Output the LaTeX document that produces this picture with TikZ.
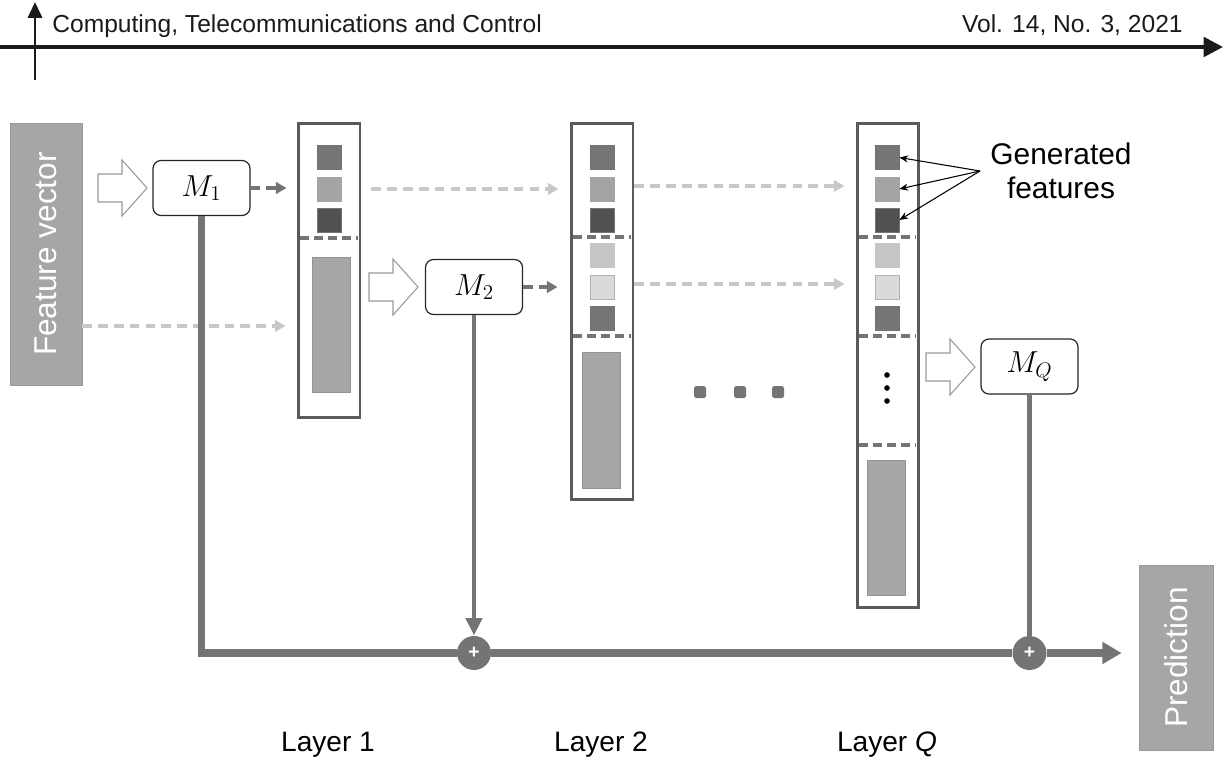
\documentclass[tikz,border=0pt]{standalone}
\usepackage{fontspec}
\setmainfont{Liberation Sans}
\usepackage{tikz}
\usetikzlibrary{arrows.meta,positioning}

\definecolor{boxgray}{HTML}{A6A6A6}
\definecolor{framegray}{HTML}{5A5A5A}
\definecolor{linegray}{HTML}{747474}
\definecolor{lightdash}{HTML}{C8C8C8}
\definecolor{sqa}{HTML}{767676}
\definecolor{sqb}{HTML}{A4A4A4}
\definecolor{sqc}{HTML}{515151}
\definecolor{sqd}{HTML}{C6C6C6}
\definecolor{sqe}{HTML}{DADADA}
\definecolor{inkblack}{HTML}{1A1A1A}

\begin{document}
\begin{tikzpicture}[
  x=0.02cm,
  y=-0.02cm,
  sidebox/.style={draw=gray!80, fill=boxgray, text=white, rotate=90,
    inner sep=0pt, font=\fontsize{18}{21}\selectfont},
  model/.style={draw=black!85, rounded corners=1.6mm, fill=white, line width=0.7pt,
    minimum width=1.94cm, minimum height=1.1cm, inner sep=0pt,
    font=\fontsize{17.5}{20}\selectfont},
  colframe/.style={draw=framegray, line width=1.7pt, fill=white, inner sep=0pt},
  block/.style={draw=gray!85, fill=boxgray, minimum width=0.76cm, inner sep=0pt},
  feat/.style={draw=black!55, line width=0.4pt, minimum size=0.48cm, inner sep=0pt},
  sepline/.style={draw=linegray, line width=2pt, dash pattern=on 5pt off 3pt},
  darkdash/.style={draw=linegray, line width=1.8pt, dash pattern=on 5.5pt off 3.5pt,
    -{Triangle[length=6pt,width=6.5pt]}},
  lightdash/.style={draw=lightdash, line width=1.8pt, dash pattern=on 5.5pt off 3.5pt,
    -{Triangle[length=6pt,width=6.5pt]}},
  hollow/.style={draw=gray!80, fill=white, line width=0.6pt, line join=miter},
  mainline/.style={draw=linegray, line width=4.2pt},
  vline/.style={draw=linegray, line width=2.8pt},
  sum/.style={circle, fill=linegray, minimum size=0.68cm, inner sep=0pt,
    text=white, font=\fontsize{11}{11}\selectfont\bfseries},
  dot/.style={fill=linegray, rounded corners=1pt, minimum size=0.24cm, inner sep=0pt},
  note/.style={font=\fontsize{17}{19}\selectfont, align=center},
  layer/.style={font=\fontsize{16}{19}\selectfont},
  header/.style={font=\fontsize{14}{16}\selectfont, text=inkblack, inner sep=0pt}
]
  \useasboundingbox (0,0) rectangle (1223,764);

  % journal header
  \coordinate (hl) at (0,47);
  \coordinate (hr) at (1223,47);
  \coordinate (vb) at (35,80);
  \coordinate (vt) at (35,2);
  \draw[inkblack, line width=2.3pt, -{Triangle[length=11pt,width=11pt]}] (hl) -- (hr);
  \draw[inkblack, line width=1.7pt, -{Triangle[length=9pt,width=8pt]}] (vb) -- (vt);
  \node[header, anchor=base west] (jname) at (52,32)
    {Computing, Telecommunications and Control};
  \node[header, anchor=base east] (jvol) at (1183,32) {Vol. 14, No. 3, 2021};

  % input and output
  \node[sidebox, minimum width=5.24cm, minimum height=1.44cm] (fv) at (46,254)
    {Feature vector};
  \node[sidebox, minimum width=3.7cm, minimum height=1.48cm] (pred) at (1176,657.5)
    {Prediction};

  % layer columns
  \node[colframe, minimum width=1.24cm, minimum height=5.9cm] (col1) at (329,270.5) {};
  \node[colframe, minimum width=1.24cm, minimum height=7.54cm] (col2) at (602,311.5) {};
  \node[colframe, minimum width=1.22cm, minimum height=9.7cm] (colq) at (887.5,365.5) {};

  \node[block, minimum height=2.7cm] (blk1) at (331,324.5) {};
  \node[block, minimum height=2.72cm] (blk2) at (601.5,420) {};
  \node[block, minimum height=2.7cm] (blkq) at (886.5,527.5) {};

  \foreach \c/\x in {1/329.5, 2/602, q/887} {
    \node[feat, fill=sqa] (\c-1) at (\x,157.5) {};
    \node[feat, fill=sqb, draw=sqb] (\c-2) at (\x,189) {};
    \node[feat, fill=sqc] (\c-3) at (\x,220) {};
  }
  \foreach \c/\x in {2/602, q/887} {
    \node[feat, fill=sqd, draw=sqd] (\c-4) at (\x,255) {};
    \node[feat, fill=sqe, draw=gray!60] (\c-5) at (\x,287) {};
    \node[feat, fill=sqa] (\c-6) at (\x,318) {};
  }

  \draw[sepline] (300,238) -- (358,238);
  \draw[sepline] (573,237) -- (631,237);
  \draw[sepline] (573,336) -- (631,336);
  \draw[sepline] (859,237) -- (916,237);
  \draw[sepline] (859,336) -- (916,336);
  \draw[sepline] (859,445) -- (916,445);

  \foreach \y [count=\i] in {375,388,401}
    \fill[black] (887,\y) circle (1.6pt);

  % models
  \node[model] (m1) at (201.5,188) {$M_1$};
  \node[model] (m2) at (474,287) {$M_2$};
  \node[model] (mq) at (1029.5,366.5) {$M_Q$};

  % hollow input arrows
  \foreach \tx/\ty in {147/188, 418/287, 975/367}
    \draw[hollow] (\tx,\ty) -- ++(-25,-28) -- ++(0,14) -- ++(-24,0) -- ++(0,28)
      -- ++(24,0) -- ++(0,14) -- cycle;

  % feature flow
  \draw[darkdash] (m1.east) -- ([xshift=-0.2cm]col1.west |- m1.east);
  \draw[darkdash] (m2.east) -- ([xshift=-0.24cm]col2.west |- m2.east);
  \draw[lightdash] (fv.south |- 0,326) -- ([xshift=-0.22cm]col1.west |- 0,326);
  \draw[lightdash] ([xshift=0.2cm]col1.east |- 1-2) -- ([xshift=-0.22cm]col2.west |- 1-2);
  \draw[lightdash] (col2.east |- 0,186) -- ([xshift=-0.22cm]colq.west |- 0,186);
  \draw[lightdash] (col2.east |- 0,284) -- ([xshift=-0.22cm]colq.west |- 0,284);

  \foreach \x [count=\i] in {700,740,778}
    \node[dot] (dot\i) at (\x,392) {};

  % generated features
  \node[note] (gen) at (1061,171) {Generated\\features};
  \coordinate (gsrc) at (980,171);
  \foreach \r in {1,2,3}
    \draw[black, line width=0.6pt, -{Stealth[length=5pt,width=4pt]}] (gsrc) -- (q-\r.east);

  % boosting sum
  \node[sum] (sum2) at (474,653) {+};
  \node[sum] (sumq) at (1029.5,653) {+};
  \draw[mainline] (m1.south) |- (sum2.west);
  \draw[mainline] (sum2.east) -- (sumq.west);
  \draw[mainline, -{Triangle[length=11pt,width=12pt]}, shorten >=0.34cm]
    (sumq.east) -- (pred.north |- sumq.east);
  \draw[vline, -{Triangle[length=10pt,width=9pt]}] (m2.south) -- (sum2.north);
  \draw[vline] (mq.south) -- (sumq.north);

  % layer labels
  \node[layer] (lab1) at (328,745) {Layer 1};
  \node[layer] (lab2) at (601,745) {Layer 2};
  \node[layer] (labq) at (887,745) {Layer \textit{Q}};
\end{tikzpicture}
\end{document}
